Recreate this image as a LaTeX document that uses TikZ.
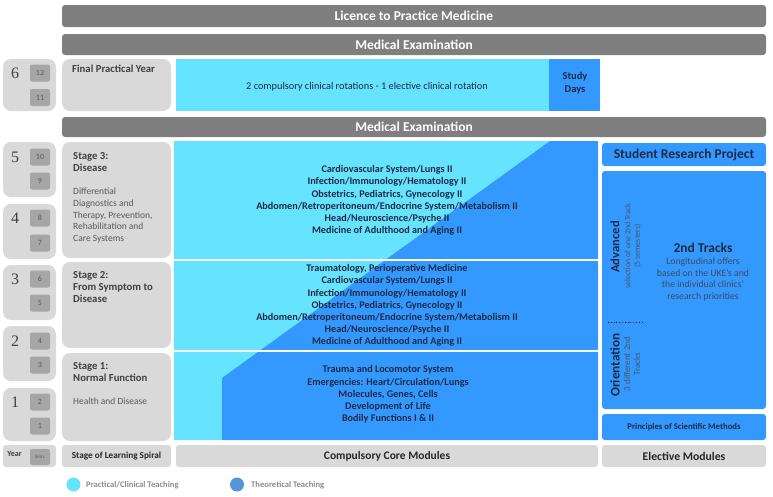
\documentclass[tikz,border=0pt]{standalone}
\usepackage{fontspec}
\setmainfont{Carlito}
\newfontfamily\numfont{Liberation Serif}
\definecolor{cyanL}{HTML}{66E3FF}
\definecolor{blueD}{HTML}{3399FF}
\definecolor{barG}{HTML}{7F7F7F}
\definecolor{lightG}{HTML}{D9D9D9}
\definecolor{semG}{HTML}{A6A6A6}
\definecolor{txtD}{HTML}{1F2A44}
\definecolor{legB}{HTML}{5596DA}
\definecolor{stxt}{HTML}{404040}
\definecolor{dtxt}{HTML}{595959}
\tikzset{
  bar/.style={fill=barG, rounded corners=3pt, text=white, font=\bfseries\fontsize{13.5}{14}\selectfont, inner sep=0pt},
  gbox/.style={fill=lightG, rounded corners=8pt, inner sep=0pt},
  gbar/.style={fill=lightG, rounded corners=3pt, inner sep=0pt, text=black!85},
  semb/.style={fill=semG, rounded corners=2pt, minimum width=20pt, minimum height=17pt, inner sep=0pt, font=\fontsize{8}{9}\selectfont, text=dtxt},
  yearnum/.style={font=\numfont\fontsize{16}{16}\selectfont, text=stxt, inner sep=0pt},
  bbox/.style={fill=blueD, rounded corners=3pt, inner sep=0pt},
  coretxt/.style={align=center, font=\bfseries\fontsize{10.2}{12.2}\selectfont, text=txtD, inner sep=0pt},
  sttitle/.style={align=left, font=\bfseries\fontsize{10.7}{12.2}\selectfont, text=stxt, inner sep=0pt, anchor=north west},
  stdesc/.style={align=left, font=\fontsize{9.5}{11.7}\selectfont, text=dtxt, inner sep=0pt, anchor=north west},
  legtxt/.style={font=\bfseries\fontsize{8.6}{9}\selectfont, text=black!45, inner sep=0pt, anchor=west},
}
\begin{document}
\begin{tikzpicture}[x=1pt,y=-1pt]
\useasboundingbox (0,0) rectangle (773,496);
% top bars
\node[bar, minimum width=704, minimum height=22] (lic) at (414,16) {Licence to Practice Medicine};
\node[bar, minimum width=704, minimum height=21] (me1) at (414,44.5) {Medical Examination};
\node[bar, minimum width=704, minimum height=20] (me2) at (414,127) {Medical Examination};
% year 6 row
\node[gbox, minimum width=53, minimum height=52] (y6) at (29.5,85) {};
\node[yearnum] (n6) at (15,73.5) {6};
\node[semb] (s12) at (40,73) {12};
\node[semb] (s11) at (40,97.5) {11};
\node[gbox, minimum width=109, minimum height=52] (fpy) at (116.5,85) {};
\node[sttitle] (fpyt) at (72,65) {Final Practical Year};
\node[fill=cyanL, minimum width=373, minimum height=52, inner sep=0pt] (rot) at (362.5,85) {};
\node[font=\fontsize{10.3}{12}\selectfont, text=txtD, inner sep=0pt] (rott) at (367,87) {2 compulsory clinical rotations - 1 elective clinical rotation};
\node[fill=blueD, minimum width=51, minimum height=52, inner sep=0pt] (sd) at (574.5,85) {};
\node[align=center, font=\bfseries\fontsize{10.5}{13}\selectfont, text=txtD, inner sep=0pt] (sdt) at (575,83) {Study\\Days};
% year boxes
\node[gbox, minimum width=53, minimum height=55] (y5) at (29.5,169.5) {};
\node[yearnum] (n5) at (15,157) {5};
\node[semb] (s10) at (40,157) {10};
\node[semb] (s9) at (40,181) {9};
\node[gbox, minimum width=53, minimum height=55] (y4) at (29.5,231.5) {};
\node[yearnum] (n4) at (15,218) {4};
\node[semb] (s8) at (40,218) {8};
\node[semb] (s7) at (40,243) {7};
\node[gbox, minimum width=53, minimum height=55] (y3) at (29.5,292.5) {};
\node[yearnum] (n3) at (15,279) {3};
\node[semb] (s6) at (40,279) {6};
\node[semb] (s5) at (40,303) {5};
\node[gbox, minimum width=53, minimum height=55] (y2) at (29.5,353.5) {};
\node[yearnum] (n2) at (15,341) {2};
\node[semb] (s4) at (40,341) {4};
\node[semb] (s3) at (40,365) {3};
\node[gbox, minimum width=53, minimum height=53] (y1) at (29.5,414.5) {};
\node[yearnum] (n1) at (15,402) {1};
\node[semb] (s2) at (40,402) {2};
\node[semb] (s1) at (40,426) {1};
\node[gbar, minimum width=53, minimum height=22] (yr) at (29.5,456) {};
\node[font=\bfseries\fontsize{8}{9}\selectfont, text=stxt, inner sep=0pt] (yrt) at (14.5,454) {Year};
\node[semb, minimum height=16, font=\fontsize{5}{6}\selectfont] (semt) at (40,457) {Sem.};
% stage boxes
\node[gbox, minimum width=109, minimum height=116] (st3) at (116.5,200) {};
\node[sttitle] (st3t) at (73,152) {Stage 3:\\Disease};
\node[stdesc] (st3d) at (73,188) {Differential\\Diagnostics and\\Therapy, Prevention,\\Rehabilitation and\\Care Systems};
\node[gbox, minimum width=109, minimum height=86] (st2) at (116.5,305) {};
\node[sttitle] (st2t) at (73,271) {Stage 2:\\From Symptom to\\Disease};
\node[gbox, minimum width=109, minimum height=88] (st1) at (116.5,397) {};
\node[sttitle] (st1t) at (73,362) {Stage 1:\\Normal Function};
\node[stdesc] (st1d) at (73,398) {Health and Disease};
\node[gbar, minimum width=109, minimum height=22, font=\bfseries\fontsize{9.2}{10}\selectfont] (spiral) at (116.5,456) {Stage of Learning Spiral};
% core modules area
\fill[cyanL] (174,141) rectangle (598,440);
\fill[blueD] (550,141) -- (598,141) -- (598,440) -- (222,440) -- (222,378) -- cycle;
\draw[white, line width=2pt] (173,260) -- (599,260);
\draw[white, line width=2pt] (173,351) -- (599,351);
\node[coretxt] (c3) at (387,200.5) {Cardiovascular System/Lungs II\\Infection/Immunology/Hematology II\\Obstetrics, Pediatrics, Gynecology II\\Abdomen/Retroperitoneum/Endocrine System/Metabolism II\\Head/Neuroscience/Psyche II\\Medicine of Adulthood and Aging II};
\node[coretxt] (c2) at (387,305.5) {Traumatology, Perioperative Medicine\\Cardiovascular System/Lungs II\\Infection/Immunology/Hematology II\\Obstetrics, Pediatrics, Gynecology II\\Abdomen/Retroperitoneum/Endocrine System/Metabolism II\\Head/Neuroscience/Psyche II\\Medicine of Adulthood and Aging II};
\node[coretxt] (c1) at (388,394.5) {Trauma and Locomotor System\\Emergencies: Heart/Circulation/Lungs\\Molecules, Genes, Cells\\Development of Life\\Bodily Functions I \& II};
\node[gbar, minimum width=422, minimum height=22, font=\bfseries\fontsize{11.5}{12}\selectfont] (ccm) at (387,456) {Compulsory Core Modules};
% right column
\node[bbox, minimum width=164, minimum height=23, font=\bfseries\fontsize{13.5}{14}\selectfont, text=txtD] (srp) at (684,154.5) {Student Research Project};
\node[bbox, minimum width=164, minimum height=238] (tracks) at (684,290) {};
\node[rotate=90, font=\bfseries\fontsize{12.6}{13}\selectfont, text=txtD, inner sep=0pt] (adv) at (615,247) {Advanced};
\node[rotate=90, align=center, font=\fontsize{8}{9.5}\selectfont, text=txtD!80, inner sep=0pt] (advd) at (633,246) {selection of one 2nd Track\\(5 semesters)};
\coordinate (dl) at (608,322);
\coordinate (dr) at (644,322);
\draw[dotted, line width=0.8pt, black] (dl) -- (dr);
\node[rotate=90, font=\bfseries\fontsize{13.2}{14}\selectfont, text=txtD, inner sep=0pt] (ori) at (615,365) {Orientation};
\node[rotate=90, align=center, font=\fontsize{9}{10}\selectfont, text=txtD!80, inner sep=0pt] (orid) at (632,364) {3 different 2nd\\Tracks};
\node[font=\bfseries\fontsize{13.5}{14}\selectfont, text=txtD, inner sep=0pt] (tr2) at (703,248) {2nd Tracks};
\node[align=center, font=\fontsize{9.7}{11.7}\selectfont, text=txtD!85, inner sep=0pt] (trd) at (703,279.5) {Longitudinal offers\\based on the UKE's and\\the individual clinics'\\research priorities};
\node[bbox, minimum width=164, minimum height=26, font=\bfseries\fontsize{8.7}{9}\selectfont, text=txtD] (psm) at (684,427) {Principles of Scientific Methods};
\node[gbar, minimum width=164, minimum height=22, font=\bfseries\fontsize{11.7}{12}\selectfont] (elec) at (684,456) {Elective Modules};
% legend
\node[circle, fill=cyanL, minimum size=14, inner sep=0pt] (lc1) at (73.5,484.5) {};
\node[legtxt] (lt1) at (86,485) {Practical/Clinical Teaching};
\node[circle, fill=legB, minimum size=14, inner sep=0pt] (lc2) at (237,484.5) {};
\node[legtxt] (lt2) at (251,485) {Theoretical Teaching};
\end{tikzpicture}
\end{document}
